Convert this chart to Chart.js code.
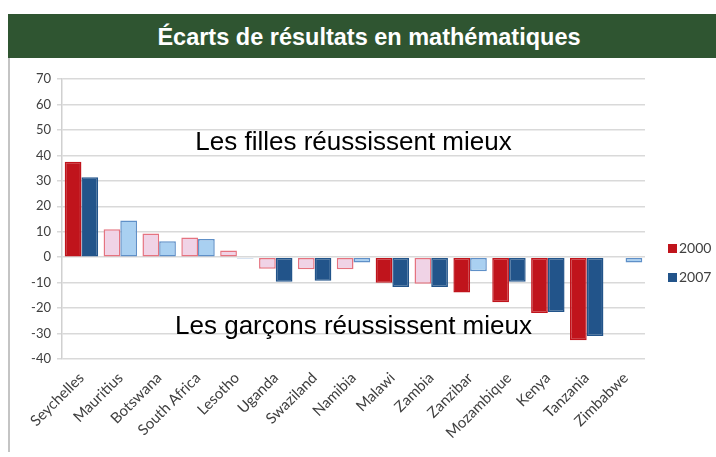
<!DOCTYPE html>
<html>
<head>
<meta charset="utf-8">
<script src="https://cdn.jsdelivr.net/npm/chart.js@4/dist/chart.umd.min.js"></script>
<style>
  body { margin: 0; background: #fff; width: 716px; height: 457px; overflow: hidden; position: relative; font-family: "Liberation Sans", Arial, sans-serif; }
  #banner { position: absolute; left: 8px; top: 14px; width: 708px; height: 44px; background: #2F5531; color: #fff;
    font-weight: bold; font-size: 23.5px; line-height: 46px; text-align: center; text-indent: 14px; }
  #frame { position: absolute; left: 8px; top: 58px; width: 2px; height: 394px; background: #C4C4C4; }
  #wrap { position: absolute; left: 10px; top: 58px; width: 706px; height: 399px; }
  .leg { position: absolute; left: 668px; font-family: Lato, "Open Sans", sans-serif; font-size: 14px; color: #404040; }
  .leg i { display: inline-block; width: 9px; height: 9px; margin-right: 2px; }
</style>
</head>
<body>
<div id="banner">Écarts de résultats en mathématiques</div>
<div id="frame"></div>
<div id="wrap"><canvas id="chart"></canvas></div>
<div class="leg" style="top:239px"><i style="background:#C0141C"></i>2000</div>
<div class="leg" style="top:268px"><i style="background:#22548A"></i>2007</div>
<script>
const countries = ["Seychelles", "Mauritius", "Botswana", "South Africa", "Lesotho", "Uganda", "Swaziland",
  "Namibia", "Malawi", "Zambia", "Zanzibar", "Mozambique", "Kenya", "Tanzania", "Zimbabwe"];
const gap2000 = [37.5, 11, 9.3, 7.7, 2.6, -4.5, -4.7, -4.7, -10, -10.4, -13.9, -17.7, -21.9, -32.6, null];
const gap2007 = [31.4, 14.4, 6.3, 7.1, -0.5, -9.7, -9.3, -2.1, -11.7, -11.7, -5.5, -9.7, -21.5, -31, -2.1];
// 1 = écart significatif (barre pleine), 0 = barre claire
const sig2000 = [1, 0, 0, 0, 0, 0, 0, 0, 1, 0, 1, 1, 1, 1, 0];
const sig2007 = [1, 0, 0, 0, 0, 1, 1, 0, 1, 1, 0, 1, 1, 1, 0];
const yTicks = [70, 60, 50, 40, 30, 20, 10, 0, -10, -20, -30, -40];

const notes = [
  { text: "Les filles réussissent mieux", value: 45 },
  { text: "Les garçons réussissent mieux", value: -27.2 },
];

const notesPlugin = {
  id: "notes",
  afterDatasetsDraw(chart) {
    const { ctx, chartArea, scales } = chart;
    ctx.save();
    ctx.font = "26px 'Liberation Sans', Arial, sans-serif";
    ctx.fillStyle = "#000";
    ctx.textAlign = "center";
    ctx.textBaseline = "middle";
    notes.forEach(n => {
      ctx.fillText(n.text, (chartArea.left + chartArea.right) / 2, scales.y.getPixelForValue(n.value));
    });
    ctx.restore();
  },
};

const tickFont = { family: "Lato, 'Open Sans', sans-serif", size: 13 };

new Chart(document.getElementById("chart"), {
  type: "bar",
  data: {
    labels: countries,
    datasets: [
      {
        label: "2000",
        data: gap2000,
        backgroundColor: sig2000.map(s => s ? "#C0141C" : "#F0D3E6"),
        borderColor: sig2000.map(s => s ? "#C0141C" : "#E57380"),
        borderWidth: 1.5,
      },
      {
        label: "2007",
        data: gap2007,
        backgroundColor: sig2007.map(s => s ? "#22548A" : "#A9D0F1"),
        borderColor: sig2007.map(s => s ? "#22548A" : "#5F90C8"),
        borderWidth: 1.5,
      },
    ],
  },
  options: {
    responsive: true,
    maintainAspectRatio: false,
    animation: false,
    layout: { padding: { top: 21, right: 71, left: 0, bottom: 0 } },
    datasets: { bar: { categoryPercentage: 0.86, barPercentage: 1, borderSkipped: false } },
    plugins: { legend: { display: false }, tooltip: { enabled: false } },
    scales: {
      x: {
        afterFit: s => { s.height = 98; },
        grid: { display: false },
        border: { display: false },
        ticks: { color: "#404040", font: { family: tickFont.family, size: 15 }, minRotation: 45, maxRotation: 45, padding: 2 },
      },
      y: {
        min: -40,
        max: 70,
        afterFit: s => { s.width = 52; },
        afterBuildTicks: s => { s.ticks = yTicks.map(v => ({ value: v })); },
        grid: { color: "#D9D9D9", lineWidth: 1.5, tickLength: 5 },
        border: { color: "#D0D0D0", width: 1.5 },
        ticks: { color: "#404040", font: tickFont, padding: 6 },
      },
    },
  },
  plugins: [notesPlugin],
});
</script>
</body>
</html>
